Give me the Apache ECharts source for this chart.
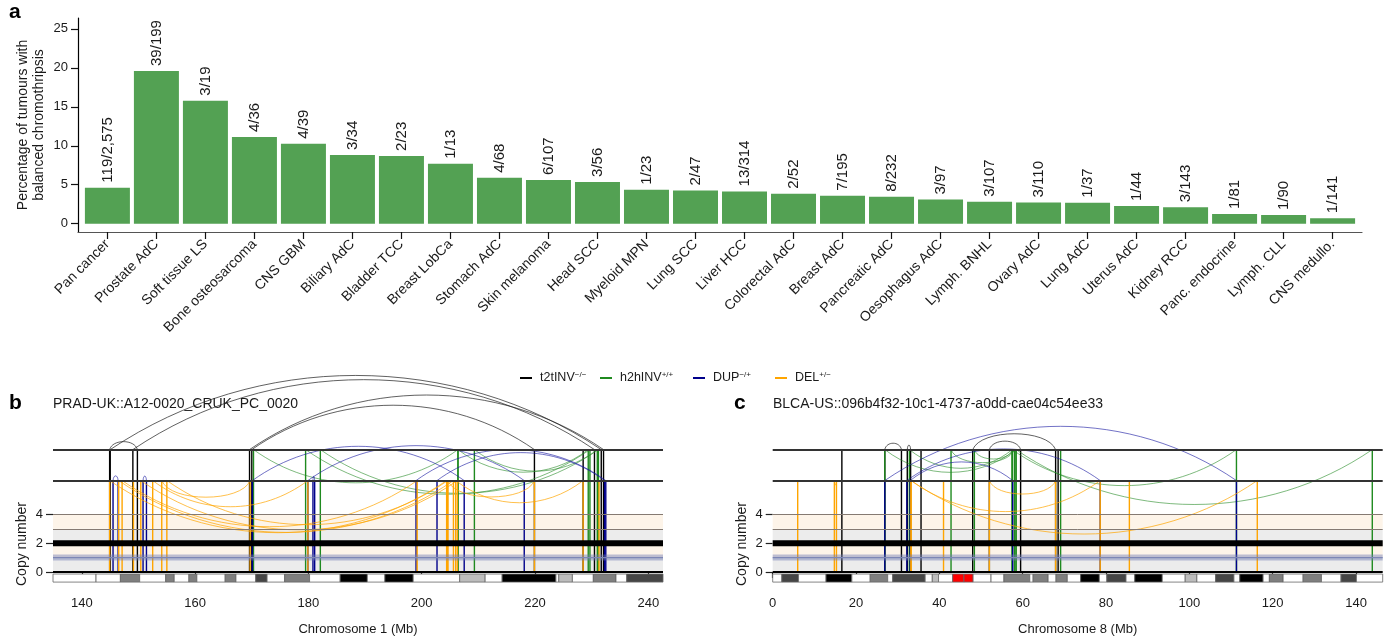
<!DOCTYPE html>
<html><head><meta charset="utf-8">
<script src="https://cdn.jsdelivr.net/npm/echarts@6/dist/echarts.min.js"></script>
<style>html,body{margin:0;padding:0;background:#fff}#c{width:1386px;height:638px}</style>
</head><body><div id="c"></div>
<script>
// ---------------- Panel a data ----------------
const CATEGORIES = ['Pan cancer','Prostate AdC','Soft tissue LS','Bone osteosarcoma','CNS GBM','Biliary AdC','Bladder TCC','Breast LobCa','Stomach AdC','Skin melanoma','Head SCC','Myeloid MPN','Lung SCC','Liver HCC','Colorectal AdC','Breast AdC','Pancreatic AdC','Oesophagus AdC','Lymph. BNHL','Ovary AdC','Lung AdC','Uterus AdC','Kidney RCC','Panc. endocrine','Lymph. CLL','CNS medullo.'];
const PERCENT = [4.62,19.6,15.79,11.11,10.26,8.82,8.70,7.69,5.88,5.61,5.36,4.35,4.26,4.14,3.85,3.59,3.45,3.09,2.80,2.73,2.70,2.27,2.10,1.23,1.11,0.71];
const COUNT_LABELS = ['119/2,575','39/199','3/19','4/36','4/39','3/34','2/23','1/13','4/68','6/107','3/56','1/23','2/47','13/314','2/52','7/195','8/232','3/97','3/107','3/110','1/37','1/44','3/143','1/81','1/90','1/141'];
const PCT_TICKS = [0,5,10,15,20,25];

// ---------------- Panels b, c data ----------------
const CHR1_TICKS = [140,160,180,200,220,240];
const CHR8_TICKS = [0,20,40,60,80,100,120,140];
const CN_TICKS = [0,2,4];
const LEGEND_NAMES = ['t2tINV','h2hINV','DUP','DEL'];
const LEGEND_SUP = {t2tINV:'\u2212/\u2212', h2hINV:'+/+', DUP:'\u2212/+', DEL:'+/\u2212'};

// [type, breakpoint 1 (Mb), breakpoint 2 (Mb) or null]
const SV_B = [
 ['t2tINV',144.9,149.8],['t2tINV',145.0,231.7],['t2tINV',149.0,230.5],['t2tINV',169.6,232.1],['t2tINV',170.0,219.9],['t2tINV',228.5,null],
 ['h2hINV',170.3,206.4],['h2hINV',179.5,229.7],['h2hINV',182.1,231.2],['h2hINV',206.4,229.4],['h2hINV',209.3,231.0],
 ['DUP',145.5,146.4],['DUP',150.8,151.4],['DUP',170.1,207.5],['DUP',179.9,218.1],['DUP',180.8,181.1],['DUP',199.0,232.5],['DUP',202.7,232.3],
 ['DEL',144.9,204.4],['DEL',146.5,205.6],['DEL',147.1,199.2],['DEL',150.4,206.3],['DEL',152.5,179.9],['DEL',154.1,169.7],['DEL',155.0,204.6],['DEL',204.6,219.9],['DEL',206.0,228.5],['DEL',231.3,null],['DEL',149.1,null]
];
const SV_C = [
 ['t2tINV',26.9,30.9],['t2tINV',32.3,33.1],['t2tINV',48.0,67.9],['t2tINV',52.0,59.5],['t2tINV',16.6,null],['t2tINV',35.6,null],['t2tINV',68.5,null],
 ['h2hINV',26.9,58.4],['h2hINV',32.8,57.5],['h2hINV',42.8,58.0],['h2hINV',48.4,57.5],['h2hINV',57.5,111.3],['h2hINV',58.4,143.9],['h2hINV',69.1,null],
 ['DUP',26.9,111.3],['DUP',32.2,78.6],['DUP',33.0,57.6],
 ['DEL',33.2,78.6],['DEL',33.2,116.3],['DEL',52.0,67.9],['DEL',6.0,null],['DEL',14.8,15.3],['DEL',41.0,null],['DEL',85.6,null]
];
// copy-number segments [start, end, CN]
const CN_TOTAL_B = [[134.9,242.6,2]];
const CN_MINOR_B = [[134.9,242.6,1]];
const CN_TOTAL_C = [[0,146.4,2]];
const CN_MINOR_C = [[0,146.4,1]];
// cytobands [start, end, stain]
const BANDS_CHR1 = [[134.9,142.5,'gneg'],[142.5,146.8,'gneg'],[146.8,150.2,'gpos50'],[150.2,154.8,'gneg'],[154.8,156.3,'gpos50'],[156.3,158.9,'gneg'],[158.9,160.3,'gpos50'],[160.3,165.3,'gneg'],[165.3,167.2,'gpos50'],[167.2,170.7,'gneg'],[170.7,172.7,'gpos75'],[172.7,175.8,'gneg'],[175.8,180.2,'gpos50'],[180.2,185.6,'gneg'],[185.6,190.4,'gpos100'],[190.4,193.5,'gneg'],[193.5,198.5,'gpos100'],[198.5,206.7,'gneg'],[206.7,211.2,'gpos25'],[211.2,214.2,'gneg'],[214.2,223.7,'gpos100'],[223.7,224.2,'gneg'],[224.2,226.6,'gpos25'],[226.6,230.3,'gneg'],[230.3,234.3,'gpos50'],[234.3,236.2,'gneg'],[236.2,242.6,'gpos75']];
const BANDS_CHR8 = [[0,2.2,'gneg'],[2.2,6.2,'gpos75'],[6.2,12.8,'gneg'],[12.8,19.0,'gpos100'],[19.0,23.4,'gneg'],[23.4,27.6,'gpos50'],[27.6,28.8,'gneg'],[28.8,36.6,'gpos75'],[36.6,38.3,'gneg'],[38.3,39.8,'gpos25'],[39.8,43.2,'gneg'],[43.2,45.9,'acen'],[45.9,48.1,'acen'],[48.1,52.4,'gneg'],[52.4,55.5,'gneg'],[55.5,61.7,'gpos50'],[61.7,62.5,'gneg'],[62.5,66.1,'gpos50'],[66.1,68.0,'gneg'],[68.0,70.7,'gpos50'],[70.7,73.9,'gneg'],[73.9,78.4,'gpos100'],[78.4,80.2,'gneg'],[80.2,84.8,'gpos75'],[84.8,86.9,'gneg'],[86.9,93.5,'gpos100'],[93.5,99.0,'gneg'],[99.0,101.8,'gpos25'],[101.8,106.3,'gneg'],[106.3,110.7,'gpos75'],[110.7,112.1,'gneg'],[112.1,117.7,'gpos100'],[117.7,119.2,'gneg'],[119.2,122.5,'gpos50'],[122.5,127.3,'gneg'],[127.3,131.7,'gpos50'],[131.7,136.4,'gneg'],[136.4,140.1,'gpos75'],[140.1,146.4,'gneg']];

// ---------------- styles ----------------
const FONT = "'Liberation Sans', Arial, Helvetica, sans-serif";
const TXT = '#1a1a1a';
const SV_COLORS = {t2tINV:'#000000', h2hINV:'#1f8a1f', DUP:'#00008b', DEL:'#ffa500'};
const ARC_COLORS = {t2tINV:'rgba(30,30,30,0.7)', h2hINV:'rgba(40,140,40,0.6)', DUP:'rgba(20,20,160,0.6)', DEL:'rgba(255,165,0,0.7)'};
const STAIN = {gneg:'#ffffff', gpos25:'#bdbdbd', gpos50:'#7f7f7f', gpos75:'#454545', gpos100:'#000000', acen:'#ff0000'};
const INV_LEVEL = 8.5, DUP_LEVEL = 6.35, IDEO_TOP = -0.14, IDEO_BOTTOM = -0.7;

function svRender(list) {
  return function (params, api) {
    const sv = list[params.dataIndex];
    const type = sv[0];
    const isInv = type === 't2tINV' || type === 'h2hINV';
    const lvl = isInv ? INV_LEVEL : DUP_LEVEL;
    const dir = (type === 't2tINV' || type === 'DUP') ? -1 : 1;
    const y0 = api.coord([api.value(0), 0])[1];
    const yl = api.coord([api.value(0), lvl])[1];
    const xs = [api.coord([api.value(0), 0])[0]];
    if (sv[2] != null) xs.push(api.coord([api.value(1), 0])[0]);
    const children = [];
    if (xs.length === 2) {
      const x1 = Math.min(xs[0], xs[1]), x2 = Math.max(xs[0], xs[1]), w = x2 - x1;
      const h = w / 7 + 4;
      const f = w < 100 ? 0.1 : 0.3;
      const k = h / 0.75;
      children.push({type:'bezierCurve', shape:{x1:x1, y1:yl, x2:x2, y2:yl, cpx1:x1 + f * w, cpy1:yl + dir * k, cpx2:x2 - f * w, cpy2:yl + dir * k}, style:{stroke:ARC_COLORS[type], lineWidth:1, fill:null}});
    }
    xs.forEach(x => children.push({type:'line', shape:{x1:x, y1:y0, x2:x, y2:yl}, style:{stroke:SV_COLORS[type], lineWidth:1.4}}));
    return {type:'group', children};
  };
}
function ideoRender(list) {
  return function (params, api) {
    const b = list[params.dataIndex];
    const p1 = api.coord([b[0], IDEO_TOP]);
    const p2 = api.coord([b[1], IDEO_BOTTOM]);
    return {type:'rect', shape:{x:p1[0], y:p1[1], width:p2[0] - p1[0], height:p2[1] - p1[1]}, style:{fill:STAIN[b[2]], stroke:'#666', lineWidth:0.8}};
  };
}
function segLine(segs) {
  const out = [];
  segs.forEach((s, i) => { if (i) out.push([null, null]); out.push([s[0], s[2]]); out.push([s[1], s[2]]); });
  return out;
}

function panelSeries(idx, sv, total, minor, bands) {
  return [
    {type:'line', xAxisIndex:idx, yAxisIndex:idx, data:segLine(total), symbol:'none', silent:true, z:4,
     lineStyle:{color:'#000', width:6},
     markArea:{silent:true, z:1, data:[
       [{yAxis:0, itemStyle:{color:'#ececec'}},{yAxis:1}],
       [{yAxis:1, itemStyle:{color:'#fdf4e9'}},{yAxis:2}],
       [{yAxis:2, itemStyle:{color:'#ececec'}},{yAxis:3}],
       [{yAxis:3, itemStyle:{color:'#fdf4e9'}},{yAxis:4}]]},
     markLine:{silent:true, symbol:'none', label:{show:false}, data:[
       {yAxis:3, lineStyle:{color:'#857a72', width:1, type:'solid'}},
       {yAxis:4, lineStyle:{color:'#857a72', width:1, type:'solid'}},
       {yAxis:0, lineStyle:{color:'#000', width:2, type:'solid'}},
       {yAxis:DUP_LEVEL, lineStyle:{color:'#333', width:2, type:'solid'}},
       {yAxis:INV_LEVEL, lineStyle:{color:'#333', width:2, type:'solid'}}]}},
    {type:'line', xAxisIndex:idx, yAxisIndex:idx, data:segLine(minor), symbol:'none', silent:true, z:3,
     lineStyle:{color:'rgba(110,122,178,0.45)', width:6}},
    {type:'line', xAxisIndex:idx, yAxisIndex:idx, data:segLine(minor), symbol:'none', silent:true, z:3,
     lineStyle:{color:'#7d86b5', width:1.2}},
    {type:'custom', xAxisIndex:idx, yAxisIndex:idx, silent:true, z:2, renderItem:svRender(sv),
     data:sv.map(s => [s[1], s[2] == null ? s[1] : s[2]]), encode:{x:[0,1]}},
    {type:'custom', xAxisIndex:idx, yAxisIndex:idx, silent:true, z:3, renderItem:ideoRender(bands),
     data:bands.map(b => [b[0], b[1]]), encode:{x:[0,1]}}
  ];
}

function chrXAxis(idx, min, max, ticks, name) {
  return {type:'value', gridIndex:idx, min, max, axisLine:{show:false}, splitLine:{show:false},
    axisTick:{customValues:ticks, length:6, lineStyle:{color:'#222', width:1.2}},
    axisLabel:{customValues:ticks, fontSize:13, color:TXT, fontFamily:FONT, margin:14},
    name, nameLocation:'middle', nameGap:40, nameMoveOverlap:false, nameTextStyle:{fontSize:13, color:TXT, fontFamily:FONT}};
}
function cnYAxis(idx) {
  return {type:'value', gridIndex:idx, min:-0.75, max:15, axisLine:{show:false}, splitLine:{show:false},
    axisTick:{customValues:CN_TICKS, length:7, lineStyle:{color:'#222', width:1.2}},
    axisLabel:{customValues:CN_TICKS, fontSize:13, color:TXT, fontFamily:FONT, margin:10}};
}

const legendX = [520, 600, 693, 775];
const legends = LEGEND_NAMES.map((n, i) => ({
  data:[n], left:legendX[i], top:371, padding:0, icon:'rect', itemWidth:12, itemHeight:2,
  formatter: name => name + '{s|' + LEGEND_SUP[name] + '}',
  textStyle:{fontSize:12.5, color:TXT, fontFamily:FONT, padding:[0,0,0,3],
    rich:{s:{fontSize:8, fontFamily:FONT, color:TXT, verticalAlign:'top', padding:[0,0,6,0]}}}
}));

const option = {
  animation:false,
  backgroundColor:'#ffffff',
  textStyle:{fontFamily:FONT},
  grid:[
    {left:78, right:24, top:18, bottom:406},
    {left:53, width:610, top:356, height:226.8},
    {left:772.7, width:610, top:356, height:226.8}
  ],
  legend:legends,
  xAxis:[
    {type:'value', gridIndex:0, min:-0.6, max:25.6, splitLine:{show:false},
     axisLine:{onZero:false, lineStyle:{color:'#555', width:1.2}},
     axisTick:{customValues:CATEGORIES.map((c, i) => i), length:7, lineStyle:{color:'#111', width:1.2}},
     axisLabel:{customValues:CATEGORIES.map((c, i) => i), formatter:v => CATEGORIES[v], rotate:45, fontSize:14, color:TXT, fontFamily:FONT, margin:10}},
    chrXAxis(1, 134.9, 242.6, CHR1_TICKS, 'Chromosome 1 (Mb)'),
    chrXAxis(2, 0, 146.4, CHR8_TICKS, 'Chromosome 8 (Mb)')
  ],
  yAxis:[
    {type:'value', gridIndex:0, min:-1.07, max:26.4, splitLine:{show:false},
     axisLine:{show:true, onZero:false, lineStyle:{color:'#000', width:1.2}},
     axisTick:{show:true, customValues:PCT_TICKS, length:7, lineStyle:{color:'#111', width:1.2}},
     axisLabel:{customValues:PCT_TICKS, fontSize:13, color:TXT, fontFamily:FONT, margin:10},
     name:'Percentage of tumours with\nbalanced chromothripsis', nameLocation:'middle', nameGap:31, nameMoveOverlap:false,
     nameTextStyle:{fontSize:14, lineHeight:16, color:TXT, fontFamily:FONT}},
    cnYAxis(1), cnYAxis(2)
  ],
  series:[
    {type:'bar', xAxisIndex:0, yAxisIndex:0, data:PERCENT.map((v, i) => [i, v]), barWidth:45,
     itemStyle:{color:'#53a153'}, silent:true,
     label:{show:true, position:'top', rotate:90, align:'left', verticalAlign:'middle', distance:5,
       formatter:p => COUNT_LABELS[p.dataIndex], fontSize:15, color:TXT, fontFamily:FONT}},
    ...panelSeries(1, SV_B, CN_TOTAL_B, CN_MINOR_B, BANDS_CHR1),
    ...panelSeries(2, SV_C, CN_TOTAL_C, CN_MINOR_C, BANDS_CHR8),
    ...LEGEND_NAMES.map(n => ({type:'line', name:n, xAxisIndex:1, yAxisIndex:1, data:[], color:SV_COLORS[n], lineStyle:{color:SV_COLORS[n]}}))
  ],
  graphic:[
    {type:'text', left:9, top:2, style:{text:'a', font:'bold 21px ' + FONT, fill:'#000'}},
    {type:'text', left:9, top:393, style:{text:'b', font:'bold 21px ' + FONT, fill:'#000'}},
    {type:'text', left:734, top:393, style:{text:'c', font:'bold 21px ' + FONT, fill:'#000'}},
    {type:'text', left:53, top:397, style:{text:'PRAD-UK::A12-0020_CRUK_PC_0020', font:'14px ' + FONT, fill:TXT}},
    {type:'text', left:773, top:397, style:{text:'BLCA-US::096b4f32-10c1-4737-a0dd-cae04c54ee33', font:'14px ' + FONT, fill:TXT}},
    {type:'text', x:22, y:544, rotation:Math.PI / 2, style:{text:'Copy number', font:'14px ' + FONT, fill:TXT, textAlign:'center', textVerticalAlign:'middle', align:'center', verticalAlign:'middle'}},
    {type:'text', x:742, y:544, rotation:Math.PI / 2, style:{text:'Copy number', font:'14px ' + FONT, fill:TXT, textAlign:'center', textVerticalAlign:'middle', align:'center', verticalAlign:'middle'}}
  ]
};
const chart = echarts.init(document.getElementById('c'), null, {renderer:'canvas'});
chart.setOption(option);
</script></body></html>
